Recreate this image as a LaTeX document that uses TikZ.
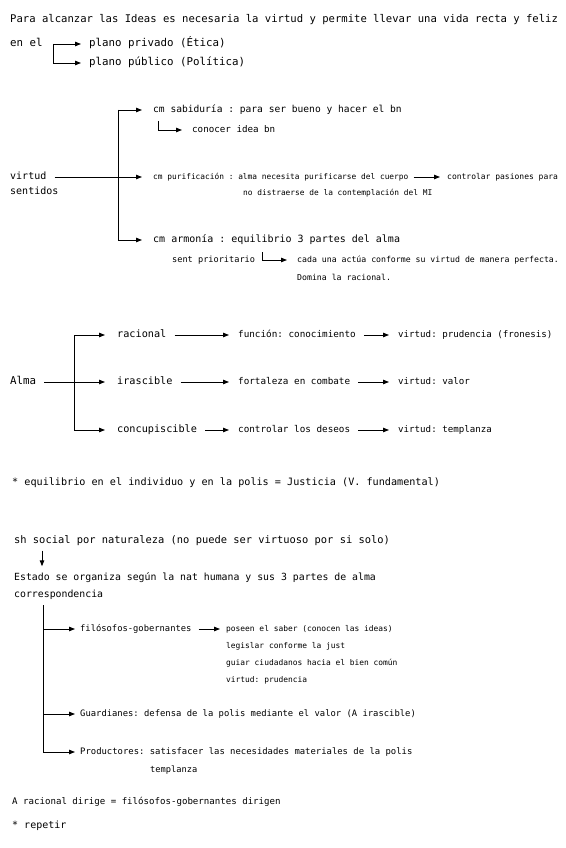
\documentclass[tikz,border=0pt]{standalone}
\usepackage{fontspec}
\setmonofont{DejaVu Sans Mono}
\usetikzlibrary{arrows.meta}

\tikzset{
  txt/.style={anchor=west, inner sep=0pt, text height=.7em, text depth=.2em,
    font=\ttfamily\fontsize{#1}{#1}\selectfont},
  arr/.style={-{Triangle[length=6pt,width=4.5pt]}, line width=.9pt, shorten >=#1},
  arr/.default=8pt,
  brk/.style={line width=.9pt},
}

\begin{document}
\begin{tikzpicture}[x=1pt,y=-1pt]
    \useasboundingbox (0,0) rectangle (565,848);

    % intro
    \node[txt=10.58] (intro) at (10,20) {Para alcanzar las Ideas es necesaria la virtud y permite llevar una vida recta y feliz};
    \node[txt=10.8] (enel) at (10,44) {en el};
    \node[txt=10.8] (privado) at (89,44) {plano privado (Ética)};
    \node[txt=10.8] (publico) at (89,63) {plano público (Política)};

    \coordinate (b1) at (53,44);
    \foreach \n in {privado,publico}
        \draw[arr] (b1) |- (\n);

    % virtud
    \node[txt=10] (virtud) at (10,177) {virtud};
    \node[txt=10] (sentidos) at (10,192) {sentidos};
    \node[txt=9.6] (sabiduria) at (153,110) {cm sabiduría : para ser bueno y hacer el bn};
    \node[txt=9.2] (conocer) at (192,130) {conocer idea bn};
    \node[txt=7.85] (purif) at (153,177) {cm purificación : alma necesita purificarse del cuerpo};
    \node[txt=8] (pasiones) at (447,177) {controlar pasiones para};
    \node[txt=7.85] (distraer) at (243,193) {no distraerse de la contemplación del MI};
    \node[txt=10] (armonia) at (153,240) {cm armonía : equilibrio 3 partes del alma};
    \node[txt=8.6] (sent) at (172,260) {sent prioritario};
    \node[txt=8.2] (cada) at (297,260) {cada una actúa conforme su virtud de manera perfecta.};
    \node[txt=8.2] (domina) at (297,278) {Domina la racional.};

    \coordinate (b2) at (118,110);
    \coordinate (b3) at (158,121);
    \coordinate (b4) at (262,252);
    \draw[brk] (b2) -- (b2 |- armonia);
    \foreach \n in {sabiduria,armonia}
        \draw[arr=11pt] (b2) |- (\n);
    \draw[arr=11pt, shorten <=8pt] (virtud) -- (purif);
    \draw[arr=10pt] (b3) |- (conocer);
    \draw[arr=10pt] (b4) |- (cada);
    \draw[arr=7pt, shorten <=5pt] (purif) -- (pasiones);

    % alma
    \node[txt=10.8] (alma) at (10,382) {Alma};
    \node[txt=10.2] (racional) at (117,335) {racional};
    \node[txt=10.2] (irascible) at (117,382) {irascible};
    \node[txt=10.2] (concup) at (117,430) {concupiscible};
    \node[txt=9.3] (funcion) at (238,335) {función: conocimiento};
    \node[txt=9.3] (fortaleza) at (238,382) {fortaleza en combate};
    \node[txt=9.3] (deseos) at (238,430) {controlar los deseos};
    \node[txt=9.15] (prudencia) at (398,335) {virtud: prudencia (fronesis)};
    \node[txt=9.15] (valor) at (398,382) {virtud: valor};
    \node[txt=9.15] (templanza) at (398,430) {virtud: templanza};

    \coordinate (b5) at (74,335);
    \draw[brk] (b5) -- (b5 |- concup);
    \foreach \n in {racional,concup}
        \draw[arr=12pt] (b5) |- (\n);
    \draw[arr=12pt, shorten <=8pt] (alma) -- (irascible);
    \foreach \a/\b in {racional/funcion,irascible/fortaleza,concup/deseos,funcion/prudencia,fortaleza/valor,deseos/templanza}
        \draw[arr=9pt, shorten <=8pt] (\a) -- (\b);

    % polis
    \node[txt=10.15] (justicia) at (12,483) {* equilibrio en el individuo y en la polis = Justicia (V. fundamental)};
    \node[txt=10.4] (social) at (14,541) {sh social por naturaleza (no puede ser virtuoso por si solo)};
    \node[txt=9.85] (estado) at (14,578) {Estado se organiza según la nat humana y sus 3 partes de alma};
    \node[txt=9.85] (corresp) at (14,595) {correspondencia};
    \coordinate (b6) at (42,541);
    \draw[arr=7pt, shorten <=5pt] (b6 |- social.south) -- (b6 |- estado.north);

    \node[txt=8.8] (filosofos) at (80,629) {filósofos-gobernantes};
    \foreach \t [count=\i] in {poseen el saber (conocen las ideas),legislar conforme la just,guiar ciudadanos hacia el bien común,virtud: prudencia}
        \node[txt=7.9] (p\i) at (226,612+17*\i) {\t};
    \node[txt=8.85] (guardianes) at (80,714) {Guardianes: defensa de la polis mediante el valor (A irascible)};
    \node[txt=8.9] (productores) at (80,752) {Productores: satisfacer las necesidades materiales de la polis};
    \node[txt=8.7] (templ) at (150,770) {templanza};

    \coordinate (b7) at (43,605);
    \foreach \n in {filosofos,guardianes,productores}
        \draw[arr=5pt] (b7) |- (\n);
    \draw[arr=6pt, shorten <=7pt] (filosofos) -- (p1);

    \node[txt=9.1] (dirige) at (12,802) {A racional dirige = filósofos-gobernantes dirigen};
    \node[txt=10] (repetir) at (12,826) {* repetir};
\end{tikzpicture}
\end{document}
